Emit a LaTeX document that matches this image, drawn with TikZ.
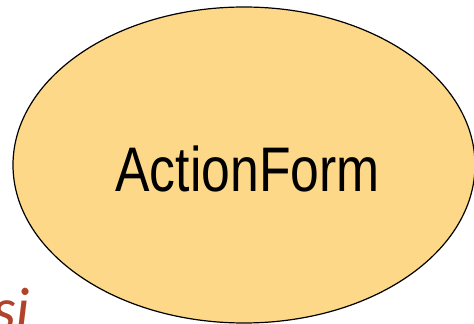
\documentclass[tikz,border=0pt]{standalone}
\usepackage{fontspec}
\newfontfamily\narrowfont[FakeStretch=0.82]{Liberation Sans}
\newfontfamily\humanist{Lato}
\definecolor{ovalfill}{HTML}{FDD888}
\definecolor{rusttext}{HTML}{B0432A}
\tikzset{
  ovalbox/.style={draw=black, line width=1.2pt, fill=ovalfill},
  oval label/.style={font=\narrowfont\fontsize{63}{63}\selectfont, text=black, inner sep=0pt},
  partial text/.style={font=\humanist\itshape\fontsize{58}{58}\selectfont, text=rusttext, inner sep=0pt, anchor=base west}
}
\begin{document}
\begin{tikzpicture}[x=1pt,y=1pt]
\useasboundingbox (0,0) rectangle (474,324);
\clip (0,0) rectangle (474,324);
\fill[white] (0,0) rectangle (474,324);
\draw[ovalbox] (244,159) ellipse [x radius=231, y radius=158];
\node[oval label] (lbl) at (247.5,155) {ActionForm};
\node[partial text] (si) at (-7,-6) {si};
\end{tikzpicture}
\end{document}
